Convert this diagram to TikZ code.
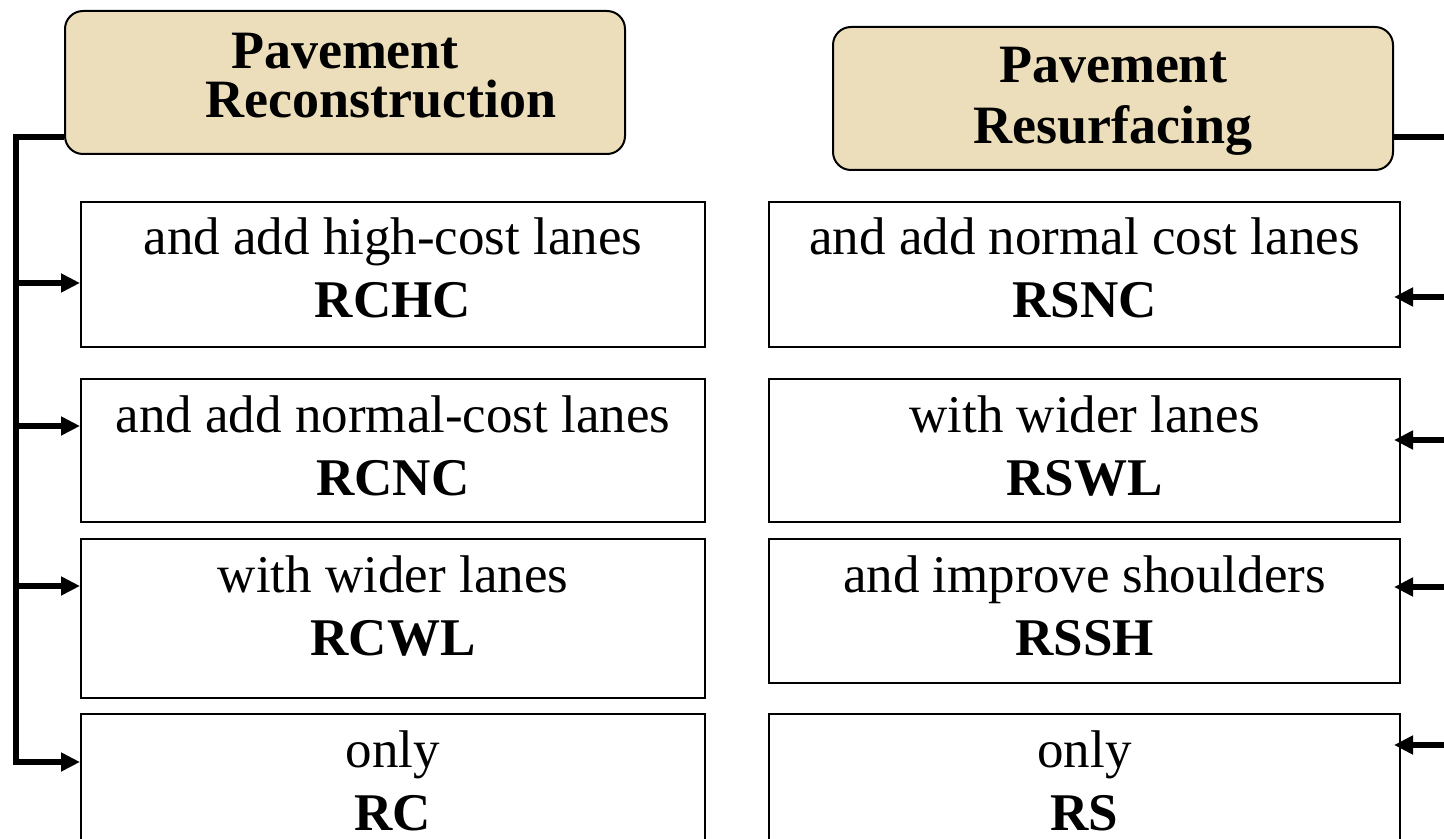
\documentclass[tikz,border=0pt]{standalone}
\usepackage{fontspec}
\setmainfont{Liberation Serif}
\usepackage{xcolor}
\usepackage{tikz}
\usetikzlibrary{arrows.meta, calc, positioning}

\begin{document}
\begin{tikzpicture}[x=0.5pt,y=-0.5pt,>={Triangle[length=9.5pt,width=9pt]},
  optbox/.style={draw,line width=1pt,inner sep=0pt,anchor=north west,font=\fontsize{26.5}{31.5}\selectfont},
  headbox/.style={draw,line width=1pt,fill=parch,rounded corners=9pt,inner sep=0pt,anchor=north west,font=\fontsize{27}{24.5}\selectfont\bfseries},
  feed/.style={line width=2.6pt}]
\definecolor{parch}{RGB}{236,222,186}
\useasboundingbox (0,0) rectangle (1444,839);
\clip (0,0) rectangle (1444,839);
% headers
\node[headbox] (recon) at (64,10) {\parbox[c][71.5pt][t]{280pt}{\centering\rule{0pt}{29pt}Pavement\\\hspace*{36pt}Reconstruction}};
\node[headbox] (resurf) at (832,26) {\parbox[c][71.5pt][t]{280pt}{\centering\rule{0pt}{28pt}Pavement\\[6pt]Resurfacing}};
% reconstruction options
\node[optbox] (rchc) at (80,201) {\parbox[c][72.5pt][t]{312pt}{\centering\rule{0pt}{26.5pt}and add high-cost lanes\\\textbf{RCHC}}};
\node[optbox] (rcnc) at (80,378) {\parbox[c][71.5pt][t]{312pt}{\centering\rule{0pt}{26.5pt}and add normal-cost lanes\\\textbf{RCNC}}};
\node[optbox] (rcwl) at (80,538) {\parbox[c][79.5pt][t]{312pt}{\centering\rule{0pt}{26.5pt}with wider lanes\\\textbf{RCWL}}};
\node[optbox] (rc) at (80,713) {\parbox[c][72.5pt][t]{312pt}{\centering\rule{0pt}{26.5pt}only\\\textbf{RC}}};
% resurfacing options
\node[optbox] (rsnc) at (768,201) {\parbox[c][72.5pt][t]{315.5pt}{\centering\rule{0pt}{26.5pt}and add normal cost lanes\\\textbf{RSNC}}};
\node[optbox] (rswl) at (768,378) {\parbox[c][71.5pt][t]{315.5pt}{\centering\rule{0pt}{26.5pt}with wider lanes\\\textbf{RSWL}}};
\node[optbox] (rssh) at (768,538) {\parbox[c][72pt][t]{315.5pt}{\centering\rule{0pt}{26.5pt}and improve shoulders\\\textbf{RSSH}}};
\node[optbox] (rs) at (768,713) {\parbox[c][72.5pt][t]{315.5pt}{\centering\rule{0pt}{26.5pt}only\\\textbf{RS}}};
% left feed
\coordinate (lt0) at (16,137);
\foreach \nm/\y in {rchc/283, rcnc/426, rcwl/586, rc/762}
  \coordinate (b-\nm) at (16,\y);
\draw[feed,->] (recon.west |- lt0) -- (lt0) -- (b-rc) -- (b-rc -| rc.west);
\foreach \nm in {rchc, rcnc, rcwl}
  \draw[feed,->] (b-\nm) -- (b-\nm -| \nm.west);
% right feed
\coordinate (rt0) at (1462,137);
\foreach \nm/\y in {rsnc/297, rswl/440, rssh/587, rs/745}
  \coordinate (b-\nm) at (1462,\y);
\draw[feed,->,shorten >=-3.5pt] (resurf.east |- rt0) -- (rt0) -- (b-rs) -- (b-rs -| rs.east);
\foreach \nm in {rsnc, rswl, rssh}
  \draw[feed,->,shorten >=-3.5pt] (b-\nm) -- (b-\nm -| \nm.east);
\end{tikzpicture}
\end{document}
